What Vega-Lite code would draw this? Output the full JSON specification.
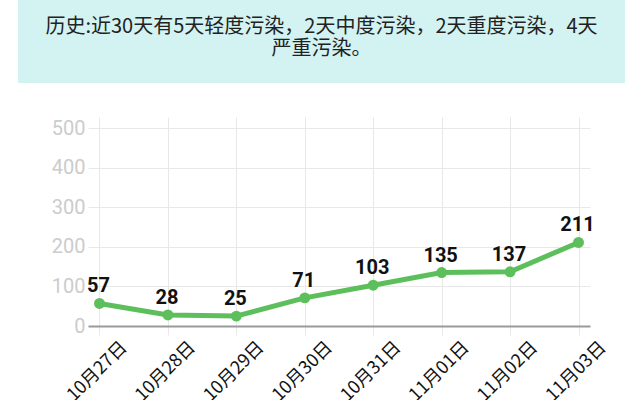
{
  "$schema": "https://vega.github.io/schema/vega-lite/v6.json",
  "padding": {"left": 18, "top": 0, "right": 5, "bottom": 0},
  "background": "white",
  "spacing": 34,
  "config": {"view": {"stroke": null}, "font": "Roboto"},
  "datasets": {
    "aqi": [
      {"date": "10月27日", "aqi": 57},
      {"date": "10月28日", "aqi": 28},
      {"date": "10月29日", "aqi": 25},
      {"date": "10月30日", "aqi": 71},
      {"date": "10月31日", "aqi": 103},
      {"date": "11月01日", "aqi": 135},
      {"date": "11月02日", "aqi": 137},
      {"date": "11月03日", "aqi": 211}
    ],
    "header": [
      {"text": ["历史:近30天有5天轻度污染，2天中度污染，2天重度污染，4天", "严重污染。"]}
    ]
  },
  "vconcat": [
    {
      "width": 607,
      "height": 83,
      "view": {"fill": "#d3f2f2", "stroke": null},
      "data": {"name": "header"},
      "mark": {"type": "text", "font": "Noto Sans CJK SC", "fontSize": 20, "color": "#222222", "align": "center", "baseline": "middle", "lineHeight": 22, "dy": -15},
      "encoding": {"text": {"field": "text"}}
    },
    {
      "spacing": 10,
      "hconcat": [
        {
          "width": 20,
          "height": 209,
          "data": {"values": []},
          "mark": "point"
        },
        {
          "width": 502,
          "height": 209,
          "data": {"name": "aqi"},
          "encoding": {
            "x": {
              "field": "date", "type": "ordinal", "sort": null,
              "scale": {"type": "point", "padding": 0.168},
              "axis": {
                "title": null, "labelAngle": -45, "labelFontSize": 18, "labelColor": "#111111",
                "labelFont": "Noto Sans CJK SC", "labelOffset": 18, "labelPadding": 3,
                "grid": true, "gridColor": "#e8e8e8", "gridWidth": 1,
                "ticks": true, "tickColor": "#e8e8e8", "tickSize": 9,
                "domainColor": "#9a9a9a", "domainWidth": 2
              }
            },
            "y": {
              "field": "aqi", "type": "quantitative",
              "scale": {"domain": [0, 528], "nice": false},
              "axis": {
                "title": null, "values": [0, 100, 200, 300, 400, 500],
                "labelFontSize": 20, "labelColor": "#cccccc", "labelPadding": 3,
                "domain": false, "ticks": false, "grid": true, "gridColor": "#e8e8e8",
                "minExtent": 40
              }
            }
          },
          "layer": [
            {"mark": {"type": "line", "color": "#5cbf5c", "strokeWidth": 5, "point": {"filled": true, "size": 120, "color": "#5cbf5c", "opacity": 1}}},
            {"mark": {"type": "text", "fontSize": 20, "fontWeight": "bold", "color": "#111111", "dy": -17, "dx": -1, "baseline": "middle"}, "encoding": {"text": {"field": "aqi"}}}
          ]
        }
      ]
    }
  ]
}
